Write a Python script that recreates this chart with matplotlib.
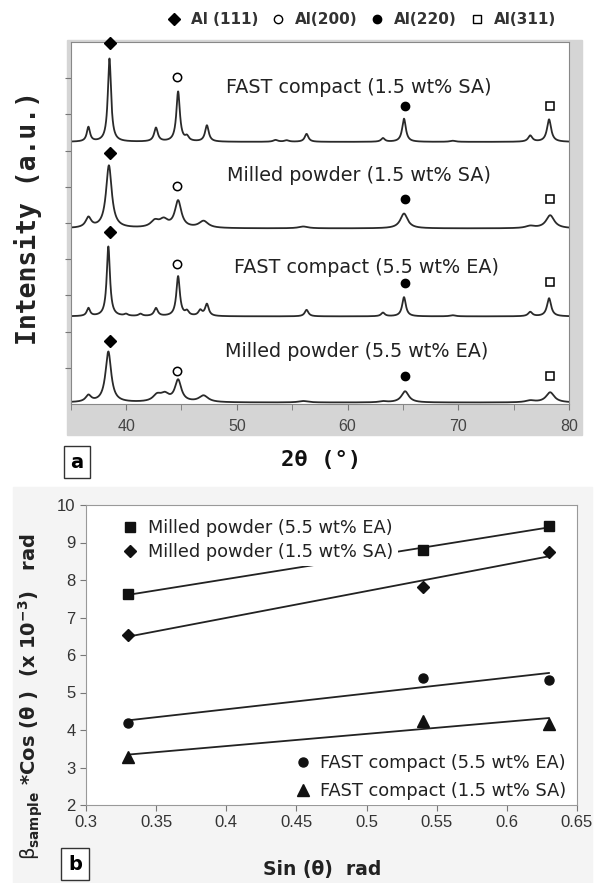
import numpy as np
import matplotlib
matplotlib.use('Agg')
import matplotlib.pyplot as plt
from matplotlib.lines import Line2D
from matplotlib.patches import Rectangle

# ---- panel a: XRD peaks (2theta, height above baseline, FWHM) ----
trace_names = ['FAST compact (1.5 wt% SA)', 'Milled powder (1.5 wt% SA)',
               'FAST compact (5.5 wt% EA)', 'Milled powder (5.5 wt% EA)']
baselines = [7.24, 4.85, 2.42, 0.04]

peaks_fast_sa = [(36.6, 0.40, 0.35), (38.5, 2.30, 0.35), (42.7, 0.38, 0.40), (44.7, 1.38, 0.38),
                 (45.5, 0.12, 0.40), (47.3, 0.45, 0.40), (53.5, 0.05, 0.5), (54.5, 0.04, 0.5),
                 (56.3, 0.22, 0.40), (63.2, 0.10, 0.40), (65.1, 0.64, 0.40), (69.5, 0.03, 0.6),
                 (76.5, 0.17, 0.45), (78.2, 0.62, 0.45)]
peaks_milled_sa = [(36.6, 0.28, 0.6), (38.45, 1.73, 0.62), (42.6, 0.18, 0.9), (43.4, 0.20, 0.9),
                   (44.7, 0.74, 0.7), (47.0, 0.19, 1.0), (56.0, 0.05, 1.0), (65.1, 0.41, 0.8),
                   (76.5, 0.06, 1.0), (78.3, 0.36, 0.9)]
peaks_fast_ea = [(36.6, 0.22, 0.35), (38.4, 1.93, 0.35), (40.0, 0.05, 0.4), (41.3, 0.06, 0.4),
                 (42.7, 0.22, 0.40), (44.7, 1.10, 0.38), (45.5, 0.12, 0.4), (46.7, 0.15, 0.4),
                 (47.3, 0.33, 0.40), (56.3, 0.18, 0.40), (63.2, 0.10, 0.40), (65.1, 0.53, 0.40),
                 (69.5, 0.03, 0.6), (76.5, 0.12, 0.45), (78.2, 0.50, 0.45)]
peaks_milled_ea = [(36.6, 0.18, 0.6), (38.4, 1.40, 0.62), (42.8, 0.18, 0.9), (43.5, 0.19, 0.9),
                   (44.7, 0.60, 0.7), (47.0, 0.18, 1.0), (56.0, 0.04, 1.0), (63.2, 0.03, 0.8),
                   (65.2, 0.31, 0.8), (76.5, 0.05, 1.0), (78.3, 0.28, 0.9)]
all_peaks = [peaks_fast_sa, peaks_milled_sa, peaks_fast_ea, peaks_milled_ea]

# reflection markers above each trace: (x, y) for 111, 200, 220, 311
marker_x = [38.55, 44.6, 65.2, 78.25]
marker_y = [[9.97, 9.04, 8.22, 8.22],
            [6.94, 6.03, 5.65, 5.67],
            [4.74, 3.88, 3.33, 3.36],
            [1.74, 0.91, 0.77, 0.77]]
label_x = [61.0, 61.0, 61.7, 60.8]
label_y = [8.73, 6.31, 3.77, 1.46]

# ---- panel b: Williamson-Hall data ----
sin_theta = [0.33, 0.54, 0.63]
milled_ea = [7.62, 8.81, 9.44]
milled_sa = [6.54, 7.82, 8.75]
fast_ea = [4.18, 5.40, 5.34]
fast_sa = [3.28, 4.24, 4.17]

W, H = 603, 883
fig = plt.figure(figsize=(W / 100, H / 100), dpi=100)
plt.rcParams['font.family'] = ['DejaVu Sans']

# background patches
fig.patches.append(Rectangle((67 / W, 1 - 435 / H), (582 - 67) / W, (435 - 40) / H,
                             transform=fig.transFigure, color='#d5d5d5', zorder=-5))
fig.patches.append(Rectangle((13 / W, 0), (592 - 13) / W, (883 - 487) / H,
                             transform=fig.transFigure, color='#f4f4f4', zorder=-5))

# ---------------- panel a ----------------
ax1 = fig.add_axes([70.7 / W, 1 - 404 / H, (569 - 70.7) / W, (404 - 42) / H])
ax1.set_facecolor('white')
tt = np.linspace(35, 80, 3000)
for base, pk in zip(baselines, all_peaks):
    yy = np.full_like(tt, base)
    for pos, h, w in pk:
        g = (w / 2) ** 2
        yy += h * g / ((tt - pos) ** 2 + g)
    ax1.plot(tt, yy, color='#2a2a2a', lw=1.3)

for my in marker_y:
    ax1.plot(marker_x[0], my[0], 'D', color='black', ms=6, clip_on=False, zorder=5)
    ax1.plot(marker_x[1], my[1], 'o', mfc='white', mec='black', ms=6, mew=1.1, zorder=5)
    ax1.plot(marker_x[2], my[2], 'o', color='black', ms=6, zorder=5)
    ax1.plot(marker_x[3], my[3], 's', mfc='white', mec='black', ms=6, mew=1.1, zorder=5)
for name, lx, ly in zip(trace_names, label_x, label_y):
    ax1.text(lx, ly, name, ha='center', va='center', fontsize=13.8, color='#222')

ax1.set_xlim(35, 80)
ax1.set_ylim(0, 10)
ax1.set_xticks([40, 50, 60, 70, 80])
ax1.set_xticks(np.arange(35, 80, 5), minor=True)
ax1.set_yticks(np.arange(1, 10))
ax1.set_yticklabels([])
ax1.tick_params(axis='both', which='both', direction='out', length=4, color='#777')
ax1.tick_params(axis='x', labelsize=11.5, labelcolor='#444', pad=7)
for lab in ax1.get_xticklabels():
    lab.set_family('Liberation Sans')
for s in ax1.spines.values():
    s.set_color('#888')
fig.text(321 / W, 1 - 460 / H, '2θ (°)', ha='center', va='center',
         fontsize=16, fontweight='bold', family='DejaVu Sans Mono', color='#111')
fig.text(28 / W, 1 - 218 / H, 'Intensity (a.u.)', rotation=90, ha='center', va='center',
         fontsize=19, fontweight='bold', family='DejaVu Sans Mono', color='#222')
fig.text(77 / W, 1 - 462 / H, 'a', ha='center', va='center', fontsize=14, fontweight='bold',
         bbox=dict(boxstyle='square,pad=0.35', fc='white', ec='#333', lw=1))

handles = [Line2D([], [], ls='', marker='D', color='black', ms=6),
           Line2D([], [], ls='', marker='o', mfc='white', mec='black', ms=6),
           Line2D([], [], ls='', marker='o', color='black', ms=6),
           Line2D([], [], ls='', marker='s', mfc='white', mec='black', ms=6)]
fig.legend(handles, ['Al (111)', 'Al(200)', 'Al(220)', 'Al(311)'], loc='center',
           bbox_to_anchor=(362 / W, 1 - 20 / H), ncol=4, frameon=False, handlelength=0.8,
           handletextpad=0.7, columnspacing=0.9, prop=dict(weight='bold', size=11),
           labelcolor='#333')

# ---------------- panel b ----------------
ax2 = fig.add_axes([86 / W, 1 - 805 / H, 491 / W, 300 / H])
ax2.set_facecolor('white')
series = [(milled_ea, 's', 7, 'Milled powder (5.5 wt% EA)'),
          (milled_sa, 'D', 6.5, 'Milled powder (1.5 wt% SA)'),
          (fast_ea, 'o', 6.5, 'FAST compact (5.5 wt% EA)'),
          (fast_sa, '^', 9, 'FAST compact (1.5 wt% SA)')]
xs = np.array(sin_theta)
hs = []
for vals, mk, ms, name in series:
    h, = ax2.plot(xs, vals, ls='', marker=mk, ms=ms, color='#111', label=name, zorder=4)
    hs.append(h)
    k, b0 = np.polyfit(xs, vals, 1)
    xl = np.array([xs.min(), xs.max()])
    ax2.plot(xl, k * xl + b0, color='#222', lw=1.3, zorder=2)

ax2.set_xlim(0.3, 0.65)
ax2.set_ylim(2, 10)
ax2.set_xticks(np.arange(0.3, 0.651, 0.05))
ax2.set_xticklabels(['0.3', '0.35', '0.4', '0.45', '0.5', '0.55', '0.6', '0.65'])
ax2.set_yticks(range(2, 11))
ax2.tick_params(direction='out', length=4, color='#777', labelsize=12, labelcolor='#333')
for lab in ax2.get_xticklabels() + ax2.get_yticklabels():
    lab.set_family('Liberation Sans')
for s in ax2.spines.values():
    s.set_color('#999')

leg1 = ax2.legend(hs[:2], [s[3] for s in series[:2]], loc='upper left',
                  bbox_to_anchor=(0.046, 1.0), frameon=True, framealpha=1, facecolor='white',
                  edgecolor='none', fontsize=12.8, handlelength=0.8, handletextpad=0.6,
                  labelspacing=0.32, borderpad=0.3, labelcolor='#222')
ax2.add_artist(leg1)
ax2.legend(hs[2:], [s[3] for s in series[2:]], loc='lower right',
           bbox_to_anchor=(1.008, -0.03), frameon=True, framealpha=1, facecolor='white',
           edgecolor='none', fontsize=12.8, handlelength=0.8, handletextpad=0.6,
           labelspacing=0.55, borderpad=0.3, labelcolor='#222')

fig.text(31 / W, 1 - 697 / H,
         r'$\mathrm{\beta}_{\mathbf{sample}}$ *Cos (θ )  (x 10$^{\mathbf{-3}}$)   rad',
         rotation=90, ha='center', va='center', fontsize=14, fontweight='bold', color='#222')
fig.text(322 / W, 1 - 870 / H, 'Sin (θ)  rad', ha='center', va='center',
         fontsize=13.5, fontweight='bold', color='#222')
fig.text(75 / W, 1 - 864 / H, 'b', ha='center', va='center', fontsize=14, fontweight='bold',
         bbox=dict(boxstyle='square,pad=0.35', fc='white', ec='#333', lw=1))

fig.savefig('out.png', dpi=100)
